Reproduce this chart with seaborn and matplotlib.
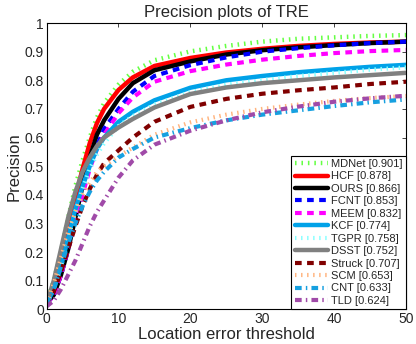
import numpy as np
import pandas as pd
import matplotlib
matplotlib.use("Agg")
import matplotlib.pyplot as plt
import seaborn as sns

# 阈值（像素）
thresholds = [0, 1, 2, 3, 4, 5, 6, 7, 8, 10, 12, 15, 20, 25, 30, 35, 40, 45, 50]

# 各跟踪器的精度曲线
mdnet = [0.02, 0.10, 0.20, 0.32, 0.43, 0.52, 0.60, 0.67, 0.72, 0.785, 0.83, 0.87, 0.901, 0.92, 0.935, 0.945, 0.95, 0.955, 0.958]
hcf = [0.02, 0.08, 0.17, 0.28, 0.39, 0.49, 0.58, 0.65, 0.70, 0.766, 0.81, 0.85, 0.878, 0.897, 0.91, 0.92, 0.927, 0.932, 0.935]
ours = [0.02, 0.05, 0.12, 0.21, 0.32, 0.43, 0.53, 0.61, 0.66, 0.735, 0.79, 0.835, 0.866, 0.89, 0.905, 0.915, 0.923, 0.93, 0.935]
fcnt = [0.02, 0.05, 0.12, 0.21, 0.31, 0.41, 0.50, 0.57, 0.63, 0.70, 0.76, 0.815, 0.853, 0.88, 0.90, 0.912, 0.922, 0.93, 0.935]
meem = [0.02, 0.05, 0.12, 0.21, 0.31, 0.40, 0.49, 0.56, 0.61, 0.685, 0.74, 0.795, 0.832, 0.855, 0.872, 0.885, 0.895, 0.902, 0.906]
kcf = [0.02, 0.07, 0.15, 0.25, 0.35, 0.43, 0.50, 0.56, 0.60, 0.655, 0.69, 0.73, 0.774, 0.80, 0.815, 0.828, 0.838, 0.847, 0.854]
tgpr = [0.02, 0.07, 0.15, 0.25, 0.34, 0.42, 0.49, 0.54, 0.58, 0.64, 0.675, 0.715, 0.758, 0.785, 0.80, 0.815, 0.826, 0.837, 0.845]
dsst = [0.02, 0.10, 0.21, 0.32, 0.41, 0.48, 0.53, 0.57, 0.60, 0.635, 0.665, 0.705, 0.752, 0.775, 0.79, 0.80, 0.81, 0.818, 0.826]
struck = [0.02, 0.06, 0.13, 0.21, 0.29, 0.36, 0.42, 0.47, 0.51, 0.555, 0.60, 0.655, 0.707, 0.735, 0.753, 0.765, 0.775, 0.787, 0.795]
scm = [0.02, 0.09, 0.18, 0.27, 0.34, 0.40, 0.44, 0.48, 0.50, 0.535, 0.565, 0.61, 0.653, 0.68, 0.70, 0.715, 0.728, 0.738, 0.745]
cnt = [0.02, 0.07, 0.15, 0.23, 0.30, 0.36, 0.41, 0.45, 0.48, 0.53, 0.56, 0.60, 0.633, 0.66, 0.68, 0.695, 0.71, 0.723, 0.733]
tld = [0.01, 0.03, 0.07, 0.12, 0.17, 0.23, 0.29, 0.34, 0.38, 0.46, 0.52, 0.575, 0.624, 0.66, 0.688, 0.708, 0.725, 0.737, 0.746]

names = ["MDNet", "HCF", "OURS", "FCNT", "MEEM", "KCF", "TGPR", "DSST", "Struck", "SCM", "CNT", "TLD"]
scores = ["0.901", "0.878", "0.866", "0.853", "0.832", "0.774", "0.758", "0.752", "0.707", "0.653", "0.633", "0.624"]
curves = [mdnet, hcf, ours, fcnt, meem, kcf, tgpr, dsst, struck, scm, cnt, tld]

# 线型设置
dot = (0, (0.35, 1.1))
dash = (0, (1.6, 1.3))
dashdot = (0, (1.6, 1.0, 0.35, 1.0))
styles = {
    "MDNet": ("#66ff44", dot, 3.2),
    "HCF": ("#ff0000", "-", 3.2),
    "OURS": ("#000000", "-", 3.2),
    "FCNT": ("#0000ff", dash, 3.0),
    "MEEM": ("#ff00ff", dash, 3.0),
    "KCF": ("#00a2e8", "-", 3.2),
    "TGPR": ("#88ffff", dot, 3.0),
    "DSST": ("#808080", "-", 3.2),
    "Struck": ("#800000", dash, 3.0),
    "SCM": ("#ffb47f", dot, 3.0),
    "CNT": ("#16a0e0", dashdot, 3.0),
    "TLD": ("#a04aa8", dashdot, 3.0),
}

rows = []
for name, vals in zip(names, curves):
    for t, v in zip(thresholds, vals):
        rows.append({"tracker": name, "threshold": t, "precision": v})
df = pd.DataFrame(rows)

sns.set_style("white")
plt.rcParams['font.family'] = ['Liberation Sans', 'DejaVu Sans']

fig = plt.figure(figsize=(4.16, 3.44), dpi=100)
ax = fig.add_axes([0.112, 0.101, 0.864, 0.832])

for name, score in zip(names, scores):
    color, ls, lw = styles[name]
    sub = df[df["tracker"] == name]
    sns.lineplot(data=sub, x="threshold", y="precision", ax=ax, color=color,
                 linestyle=ls, linewidth=lw, label=f"{name} [{score}]")
    ax.lines[-1].set_dash_capstyle("butt")

ax.set_xlim(0, 50)
ax.set_ylim(0, 1)
ax.set_xticks([0, 10, 20, 30, 40, 50])
ax.set_yticks(np.round(np.arange(0, 1.01, 0.1), 1))
ax.yaxis.set_major_formatter(matplotlib.ticker.FormatStrFormatter('%g'))
ax.tick_params(direction='in', top=True, right=True, length=3, width=0.6, labelsize=10, pad=2)
for sp in ax.spines.values():
    sp.set_linewidth(0.8)
    sp.set_color("black")

ax.set_title("Precision plots of TRE", fontsize=12, pad=4)
ax.set_xlabel("Location error threshold", fontsize=12, labelpad=1)
ax.set_ylabel("Precision", fontsize=12, labelpad=2)

leg = ax.legend(loc="lower right", fontsize=8, frameon=True, fancybox=False,
                edgecolor="black", framealpha=1, handlelength=3.0, handletextpad=0.3,
                labelspacing=0.22, borderpad=0.3, borderaxespad=0.0)
leg.get_frame().set_linewidth(0.8)

fig.savefig("out.png", dpi=100)
